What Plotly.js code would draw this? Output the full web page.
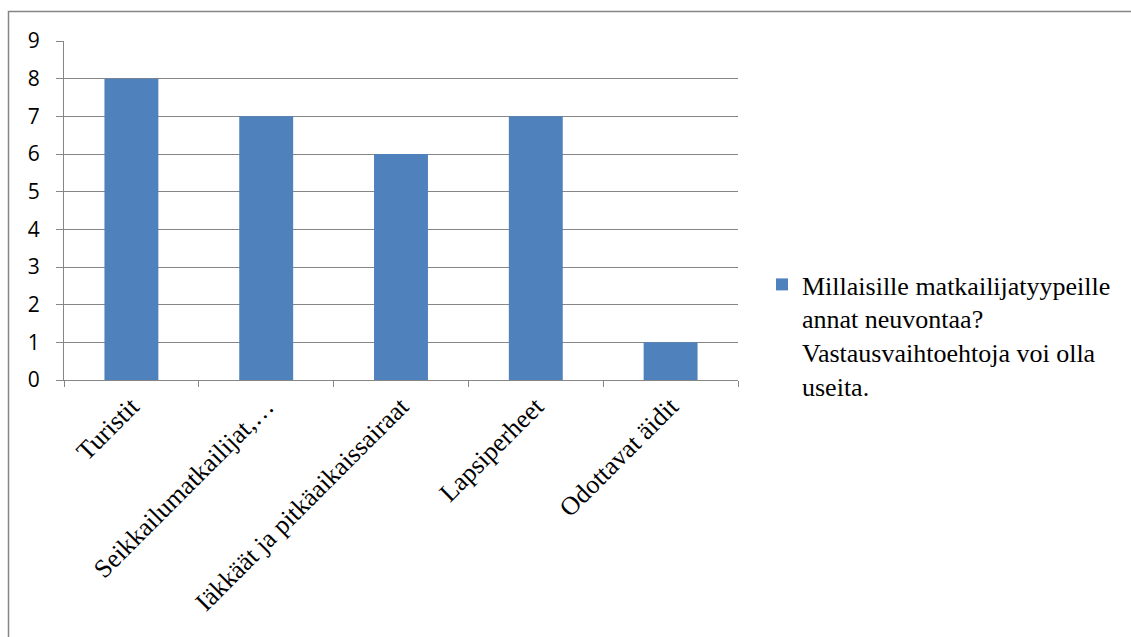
<!DOCTYPE html>
<html>
<head>
<meta charset="utf-8">
<script src="https://cdn.plot.ly/plotly-3.0.1.min.js"></script>
<style>
  html, body { margin: 0; padding: 0; background: #ffffff; }
  #chart { width: 1131px; height: 637px; }
</style>
</head>
<body>
<div id="chart"></div>
<script>
// Vastaukset: matkailijatyypit, joille neuvontaa annetaan
const categories = [
  'Turistit',
  'Seikkailumatkailijat,…',
  'Iäkkäät ja pitkäaikaissairaat',
  'Lapsiperheet',
  'Odottavat äidit'
];
const counts = [8, 7, 6, 7, 1];
const seriesName = 'Millaisille matkailijatyypeille<br>annat neuvontaa?<br>Vastausvaihtoehtoja voi olla<br>useita.';
const yTicks = [0, 1, 2, 3, 4, 5, 6, 7, 8, 9];

const W = 1131, H = 637;
const margin = { l: 64, r: 393, t: 41, b: 257 };
const plotW = W - margin.l - margin.r;
const plotH = H - margin.t - margin.b;

// pixel -> paper helpers for the frame drawn around the chart
const px2x = p => (p - margin.l) / plotW;
const py2y = p => 1 - (p - margin.t) / plotH;

const gridColor = '#868686';
const serif = 'Liberation Serif, Times New Roman, serif';

const trace = {
  type: 'bar',
  x: categories,
  y: counts,
  name: seriesName,
  marker: { color: '#4F81BD', line: { width: 0 } },
  showlegend: true,
  hoverinfo: 'x+y'
};

const layout = {
  width: W,
  height: H,
  margin: margin,
  paper_bgcolor: '#ffffff',
  plot_bgcolor: '#ffffff',
  bargap: 0.6,
  showlegend: true,
  xaxis: {
    type: 'category',
    tickson: 'boundaries',
    ticks: 'outside',
    ticklen: 6,
    tickcolor: gridColor,
    tickwidth: 1,
    showgrid: false,
    showline: true,
    linecolor: gridColor,
    linewidth: 1,
    tickangle: -45,
    tickfont: { family: serif, size: 26, color: '#000000' },
    automargin: false,
    fixedrange: true
  },
  yaxis: {
    range: [0, 9],
    tickvals: yTicks,
    ticktext: yTicks.map(String),
    ticks: 'outside',
    ticklen: 7,
    tickcolor: gridColor,
    tickwidth: 1,
    showgrid: true,
    gridcolor: gridColor,
    gridwidth: 1,
    showline: true,
    linecolor: gridColor,
    linewidth: 1,
    zeroline: false,
    ticklabelstandoff: 12,
    tickfont: { family: 'Open Sans, Lato, sans-serif', size: 21, color: '#000000' },
    automargin: false,
    fixedrange: true
  },
  legend: {
    xref: 'container',
    yref: 'container',
    x: 762 / W,
    xanchor: 'left',
    y: 1 - 261 / H,
    yanchor: 'top',
    valign: 'top',
    bgcolor: 'rgba(0,0,0,0)',
    borderwidth: 0,
    font: { family: serif, size: 26, color: '#000000' }
  },
  shapes: [
    {
      type: 'rect',
      xref: 'paper', yref: 'paper',
      x0: px2x(8.5), x1: px2x(W + 20),
      y0: py2y(H + 20), y1: py2y(11.5),
      line: { color: gridColor, width: 1.5 },
      fillcolor: 'rgba(0,0,0,0)',
      layer: 'below'
    }
  ]
};

Plotly.newPlot('chart', [trace], layout, { displayModeBar: false, staticPlot: true });
</script>
</body>
</html>
